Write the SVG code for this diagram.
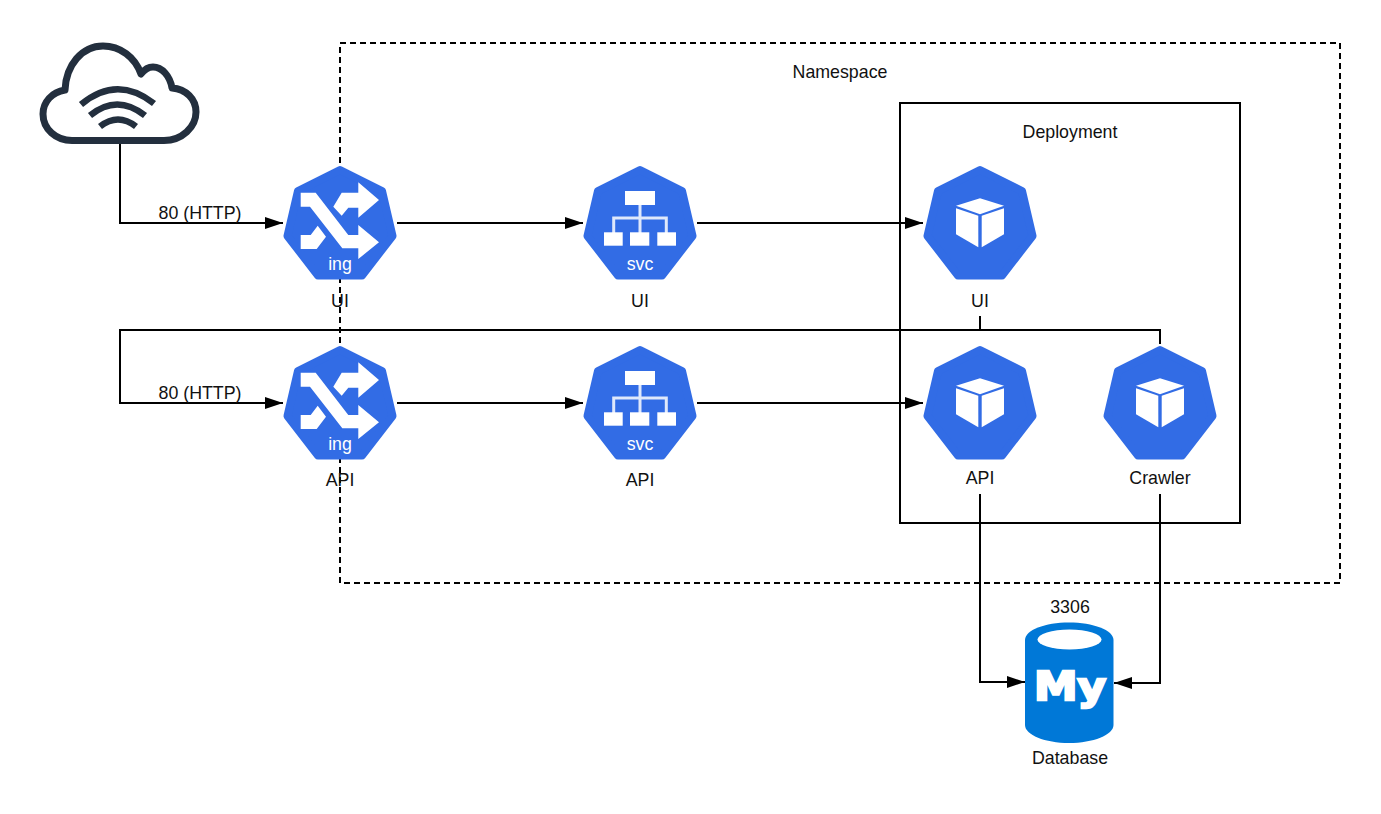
<svg xmlns="http://www.w3.org/2000/svg" xmlns:xlink="http://www.w3.org/1999/xlink" width="1381" height="814" viewBox="0 0 1381 814">
<style>
text{font-family:"Liberation Sans",Arial,sans-serif;font-size:17.8px;fill:#111;text-anchor:middle}
.in{fill:#fff}
.conn{fill:none;stroke:#000;stroke-width:2}
.hept{fill:#326ce5;stroke:#326ce5;stroke-width:8;stroke-linejoin:round}
.wh{fill:#fff}
.wire{fill:none;stroke:#dfe8fb;stroke-width:3}
.wifi{fill:none;stroke:#232f3e;stroke-width:6.5}
</style>
<defs>
<marker id="arrow" markerUnits="userSpaceOnUse" markerWidth="18" markerHeight="12" refX="18" refY="6" orient="auto"><path d="M0,0L18,6L0,12Z" fill="#000"/></marker>
<polygon id="hp" class="hept" points="70,15 112,36 122.5,81 92,120.5 48,120.5 17.5,81 28,36"/>
<g id="ingIcon">
<use href="#hp"/>
<path class="wh" d="M30.7,37.7V51.7H40L72.3,93.3H88.3V104L109,87.3 88.3,70V80H78.3L45.7,37.7Z"/>
<path class="wh" d="M63.3,51.7L71.7,60.7 78.3,52.7H88.3V62.7L109,45 88.3,27.3V37.7H71.7Z"/>
<path class="wh" d="M30.7,80H40.7L47.7,70.7 56,81.7 46.7,94H30.7Z"/>
</g>
<g id="svcIcon">
<use href="#hp"/>
<rect class="wh" x="55" y="36" width="30" height="14"/>
<path class="wire" d="M70,50V78M43.7,78V63H96.3V78"/>
<rect class="wh" x="34" y="77.3" width="18.7" height="13.4"/>
<rect class="wh" x="60" y="77.3" width="19.3" height="13.4"/>
<rect class="wh" x="87.3" y="77.3" width="18.7" height="13.4"/>
</g>
<g id="podIcon">
<use href="#hp"/>
<path class="wh" d="M46,50.7L70,43.3 94,50.7 70,59.3Z"/>
<path class="wh" d="M46,53.3L68.3,60.7V92.3L46,79.3Z"/>
<path class="wh" d="M71.7,60.7L94,53.3V79.3L71.7,92.3Z"/>
</g>
</defs>

<g id="namespace"><rect x="340" y="43" width="1000" height="540" fill="none" stroke="#000" stroke-width="2" stroke-dasharray="6 4"/><text x="840" y="78">Namespace</text></g>
<g id="deployment"><rect x="900" y="103" width="340" height="420" fill="none" stroke="#000" stroke-width="2"/><text x="1070" y="138">Deployment</text></g>

<g id="connectors">
<path class="conn" marker-end="url(#arrow)" d="M120,143V223H283"/>
<path class="conn" marker-end="url(#arrow)" d="M397,223H583"/>
<path class="conn" marker-end="url(#arrow)" d="M697,223H923"/>
<path class="conn" marker-end="url(#arrow)" d="M980,316V330H120V403H283"/>
<path class="conn" d="M1160,344V330H980"/>
<path class="conn" marker-end="url(#arrow)" d="M397,403H583"/>
<path class="conn" marker-end="url(#arrow)" d="M697,403H923"/>
<path class="conn" marker-end="url(#arrow)" d="M980,494V682H1025"/>
<path class="conn" marker-end="url(#arrow)" d="M1160,494V683H1114"/>
<text x="200" y="218.5">80 (HTTP)</text>
<text x="200" y="398.5">80 (HTTP)</text>
</g>

<g id="cloud">
<path fill="#fff" stroke="#232f3e" stroke-width="7" stroke-linejoin="round" d="M72,140.5H164C182,140.5 196,127 196,112C196,99 186,89 172,88C170,76 162,67 153,67C148,67 144,70 141,74C135,57 120,46 103,46C82,46 66,65 65,90C52,92 43,102 43,114C43,129 56,140.5 72,140.5Z"/>
<path class="wifi" d="M81,104.5Q117,74.5 154,103.5"/>
<path class="wifi" d="M90,115.5Q117,93.5 145,115.5"/>
<path class="wifi" d="M100,126.5Q118,112.5 136,126.5"/>
</g>

<g id="ing-ui"><use href="#ingIcon" transform="translate(270,155)"/><text class="in" x="340" y="270">ing</text><text x="340" y="306.5">UI</text></g>
<g id="svc-ui"><use href="#svcIcon" transform="translate(570,155)"/><text class="in" x="640" y="270">svc</text><text x="640" y="306.5">UI</text></g>
<g id="pod-ui"><use href="#podIcon" transform="translate(910,155)"/><text x="980" y="306.5">UI</text></g>
<g id="ing-api"><use href="#ingIcon" transform="translate(270,335)"/><text class="in" x="340" y="450">ing</text><text x="340" y="486">API</text></g>
<g id="svc-api"><use href="#svcIcon" transform="translate(570,335)"/><text class="in" x="640" y="450">svc</text><text x="640" y="486">API</text></g>
<g id="pod-api"><use href="#podIcon" transform="translate(910,335)"/><text x="980" y="483.5">API</text></g>
<g id="pod-crawler"><use href="#podIcon" transform="translate(1090,335)"/><text x="1160" y="483.5">Crawler</text></g>

<g id="database">
<path fill="#0078d7" d="M1025,640C1025,630 1045,622.5 1069,622.5C1093,622.5 1113.5,630 1113.5,640V725C1113.5,735 1093,743 1069,743C1045,743 1025,735 1025,725Z"/>
<ellipse class="wh" cx="1069.5" cy="639.5" rx="32" ry="10"/>
<text x="1070" y="700" style="font-family:'DejaVu Sans',sans-serif;font-weight:700;font-size:39px;fill:#fff;stroke:#fff;stroke-width:2.4" textLength="72" lengthAdjust="spacingAndGlyphs">My</text>
<text x="1070" y="612.5">3306</text>
<text x="1070" y="763.5">Database</text>
</g>
</svg>
